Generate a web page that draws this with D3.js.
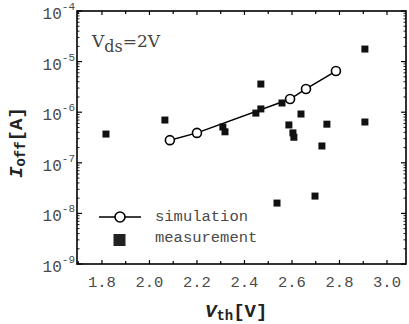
<!DOCTYPE html>
<html><head><meta charset="utf-8">
<script src="https://cdn.jsdelivr.net/npm/d3@7"></script>
<style>body{margin:0;background:#fff}svg{display:block}</style>
</head><body>
<script>
// Data
const simVth = [2.086, 2.20, 2.592, 2.659, 2.785];
const simIoff = [2.8e-7, 3.9e-7, 1.82e-6, 2.88e-6, 6.5e-6];
const measVth = [1.817, 2.065, 2.309, 2.318, 2.469, 2.448, 2.469, 2.558, 2.587, 2.604, 2.608, 2.638, 2.747, 2.726, 2.907, 2.907, 2.537, 2.697];
const measIoff = [3.7e-7, 7.0e-7, 5.1e-7, 4.1e-7, 3.6e-6, 9.6e-7, 1.16e-6, 1.52e-6, 5.6e-7, 3.9e-7, 3.2e-7, 9.2e-7, 5.8e-7, 2.15e-7, 1.77e-5, 6.4e-7, 1.6e-8, 2.2e-8];
const xTicks = [1.8, 2.0, 2.2, 2.4, 2.6, 2.8, 3.0];
const xTickLabels = ["1.8", "2.0", "2.2", "2.4", "2.6", "2.8", "3.0"];
const yExps = [-4, -5, -6, -7, -8, -9];
const legendLabels = ["simulation", "measurement"];

const W = 409, H = 324;
const L = 77, R = 406, T = 11, B = 264;
const svg = d3.select("body").append("svg").attr("width", W).attr("height", H);

const x = d3.scaleLinear().domain([1.695, 3.08]).range([L, R]);
const y = d3.scaleLog().domain([1e-9, 1e-4]).range([B, T]);

const mono = "'Liberation Mono', 'DejaVu Sans Mono', monospace";
const gray = "#4a4a4a";

// Minor tick values
const xMinor = d3.range(17, 31).map(d => d / 10).filter(v => !xTicks.some(t => Math.abs(t - v) < 1e-9));
const yMinor = [];
for (let e = -9; e < -4; e++) for (let m = 2; m <= 9; m++) yMinor.push(m * Math.pow(10, e));

const ax = svg.append("g").attr("stroke", "#000").attr("stroke-width", 1.2);
// bottom & top ticks
xTicks.forEach(v => {
  ax.append("line").attr("x1", x(v)).attr("x2", x(v)).attr("y1", B).attr("y2", B - 4);
  ax.append("line").attr("x1", x(v)).attr("x2", x(v)).attr("y1", T).attr("y2", T + 4);
});
xMinor.forEach(v => {
  ax.append("line").attr("x1", x(v)).attr("x2", x(v)).attr("y1", B).attr("y2", B - 3);
  ax.append("line").attr("x1", x(v)).attr("x2", x(v)).attr("y1", T).attr("y2", T + 3);
});
// left & right ticks
yExps.forEach(e => {
  const yy = y(Math.pow(10, e));
  ax.append("line").attr("x1", L).attr("x2", L + 5).attr("y1", yy).attr("y2", yy);
  ax.append("line").attr("x1", R).attr("x2", R - 5).attr("y1", yy).attr("y2", yy);
});
yMinor.forEach(v => {
  const yy = y(v);
  ax.append("line").attr("x1", L).attr("x2", L + 2.5).attr("y1", yy).attr("y2", yy).attr("stroke-width", 0.9);
  ax.append("line").attr("x1", R).attr("x2", R - 2.5).attr("y1", yy).attr("y2", yy).attr("stroke-width", 0.9);
});
// frame
svg.append("rect").attr("x", L).attr("y", T).attr("width", R - L).attr("height", B - T)
  .attr("fill", "none").attr("stroke", "#000").attr("stroke-width", 1.6);

// x tick labels
svg.append("g").selectAll("text").data(xTicks).join("text")
  .attr("x", d => x(d)).attr("y", 287).attr("text-anchor", "middle")
  .attr("font-family", mono).attr("font-size", 15.5).attr("fill", gray)
  .text((d, i) => xTickLabels[i]);

// y tick labels
yExps.forEach(e => {
  const yy = y(Math.pow(10, e));
  const t = svg.append("text").attr("x", 75).attr("y", yy + 8).attr("text-anchor", "end")
    .attr("font-family", mono).attr("fill", gray);
  t.append("tspan").attr("font-size", 16).text("10");
  t.append("tspan").attr("font-size", 11).attr("dy", -9).text("-" + Math.abs(e));
});

// simulation line + circles
const line = d3.line().x((d, i) => x(simVth[i])).y((d, i) => y(simIoff[i]));
svg.append("path").datum(simVth).attr("d", line).attr("fill", "none").attr("stroke", "#000").attr("stroke-width", 1.5);
svg.append("g").selectAll("circle").data(simVth).join("circle")
  .attr("cx", d => x(d)).attr("cy", (d, i) => y(simIoff[i])).attr("r", 4.5)
  .attr("fill", "#fff").attr("stroke", "#000").attr("stroke-width", 1.6);

// measurement squares
svg.append("g").selectAll("rect").data(measVth).join("rect")
  .attr("x", d => x(d) - 3.5).attr("y", (d, i) => y(measIoff[i]) - 3.5)
  .attr("width", 7).attr("height", 7).attr("fill", "#111");

// legend
svg.append("line").attr("x1", 99).attr("x2", 141).attr("y1", 217).attr("y2", 217).attr("stroke", "#000").attr("stroke-width", 1.5);
svg.append("circle").attr("cx", 120).attr("cy", 217).attr("r", 5).attr("fill", "#fff").attr("stroke", "#000").attr("stroke-width", 1.6);
svg.append("rect").attr("x", 113.5).attr("y", 234).attr("width", 12).attr("height", 12).attr("fill", "#222");
svg.append("g").selectAll("text").data(legendLabels).join("text")
  .attr("x", 155).attr("y", (d, i) => 221 + i * 21)
  .attr("font-family", mono).attr("font-size", 15.5).attr("fill", gray).text(d => d);

// Vds annotation
const ann = svg.append("text").attr("x", 92).attr("y", 47)
  .attr("font-family", "'DejaVu Serif', serif").attr("font-size", 17).attr("fill", "#444");
ann.append("tspan").text("V");
ann.append("tspan").attr("dy", 5).attr("font-size", 16).text("ds");
ann.append("tspan").attr("dy", -5).text("=2V");

// x axis title
const xt = svg.append("text").attr("x", 205).attr("y", 317)
  .attr("font-family", mono).attr("font-weight", "bold").attr("fill", "#222");
xt.append("tspan").attr("font-size", 19).attr("font-style", "italic").text("V");
xt.append("tspan").attr("font-size", 14).attr("dy", 3).text("th");
xt.append("tspan").attr("font-size", 19).attr("dy", -3).text("[V]");

// y axis title
const yt = svg.append("text").attr("transform", "translate(22,178) rotate(-90)")
  .attr("font-family", mono).attr("font-weight", "bold").attr("fill", "#222");
yt.append("tspan").attr("font-size", 19).attr("font-style", "italic").text("I");
yt.append("tspan").attr("font-size", 14).attr("dy", 3).text("off");
yt.append("tspan").attr("font-size", 19).attr("dy", -3).text("[A]");
</script>
</body></html>
